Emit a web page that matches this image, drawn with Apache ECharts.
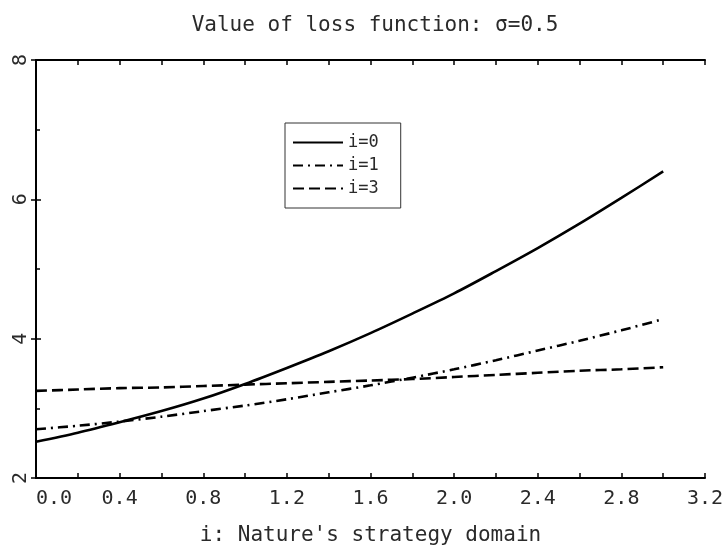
<!DOCTYPE html>
<html>
<head>
<meta charset="utf-8">
<script src="https://cdn.jsdelivr.net/npm/echarts@6/dist/echarts.min.js"></script>
<style>
html,body{margin:0;padding:0;background:#fff;}
#chart{width:724px;height:548px;}
</style>
</head>
<body>
<div id="chart"></div>
<script>
// ---- data ----
var titleText = 'Value of loss function: \u03c3=0.5';
var xAxisName = "i: Nature's strategy domain";
var seriesNames = ['i=0', 'i=1', 'i=3'];
var xValues = [0.0, 0.2, 0.4, 0.6, 0.8, 1.0, 1.2, 1.4, 1.6, 1.8, 2.0, 2.2, 2.4, 2.6, 2.8, 3.0];
var loss_i0 = [2.52, 2.65, 2.80, 2.96, 3.14, 3.35, 3.58, 3.82, 4.08, 4.36, 4.65, 4.97, 5.30, 5.65, 6.02, 6.40];
var loss_i1 = [2.70, 2.75, 2.81, 2.88, 2.96, 3.04, 3.13, 3.23, 3.33, 3.44, 3.56, 3.69, 3.83, 3.97, 4.12, 4.28];
var loss_i3 = [3.25, 3.27, 3.29, 3.30, 3.32, 3.34, 3.36, 3.38, 3.40, 3.42, 3.45, 3.48, 3.51, 3.54, 3.56, 3.59];
var xMin = 0, xMax = 3.2, xStep = 0.4;
var yMin = 2, yMax = 8, yStep = 2;

function pairs(xs, ys) { return xs.map(function (x, i) { return [x, ys[i]]; }); }

var FONT = 'DejaVu Sans Mono';
var TXT = '#2a2a2a';
var AX = { lineStyle: { color: '#000', width: 2 } };

var chart = echarts.init(document.getElementById('chart'), null, { renderer: 'canvas' });
var lineStyles = [
  { color: '#000', width: 2.6, type: 'solid' },
  { color: '#000', width: 2.6, type: [10, 5, 2, 5] },
  { color: '#000', width: 2.6, type: [11, 5] }
];
var dataSets = [loss_i0, loss_i1, loss_i3];

chart.setOption({
  animation: false,
  backgroundColor: '#fff',
  title: {
    text: titleText,
    left: 370, top: 10, textAlign: 'center',
    textStyle: { fontFamily: FONT, fontSize: 21, fontWeight: 'normal', color: TXT }
  },
  grid: { left: 36, right: 19, top: 60, bottom: 70, containLabel: false, outerBoundsMode: 'none' },
  legend: {
    data: seriesNames,
    orient: 'vertical',
    left: 285, top: 123,
    padding: [11, 22, 11, 7],
    itemWidth: 50, itemHeight: 16, itemGap: 6,
    borderColor: '#333', borderWidth: 1,
    itemStyle: { color: 'rgba(0,0,0,0)', borderWidth: 0, opacity: 0 },
    textStyle: { fontFamily: FONT, fontSize: 17, color: TXT }
  },
  xAxis: [{
    type: 'value', min: xMin, max: xMax, interval: xStep,
    position: 'bottom',
    axisLine: AX,
    axisTick: { inside: true, length: 5, lineStyle: { color: '#000', width: 1.5 } },
    minorTick: { show: true, splitNumber: 2, length: 5, lineStyle: { color: '#000', width: 1.5 } },
    splitLine: { show: false },
    axisLabel: {
      fontFamily: FONT, fontSize: 20, color: TXT, margin: 11,
      alignMinLabel: 'left',
      formatter: function (v) { return v.toFixed(1); }
    },
    name: xAxisName, nameLocation: 'middle', nameGap: 47,
    nameTextStyle: { fontFamily: FONT, fontSize: 21, color: TXT }
  }, {
    type: 'value', min: xMin, max: xMax, interval: 0.2,
    position: 'top',
    axisLine: AX,
    axisTick: { inside: true, length: 5, lineStyle: { color: '#000', width: 1.5 } },
    splitLine: { show: false },
    axisLabel: { show: false }
  }],
  yAxis: [{
    type: 'value', min: yMin, max: yMax, interval: yStep,
    position: 'left',
    axisLine: AX,
    axisTick: { inside: true, length: 5, lineStyle: { color: '#000', width: 1.5 } },
    minorTick: { show: true, splitNumber: 2, length: 4, lineStyle: { color: '#000', width: 1.5 } },
    splitLine: { show: false },
    axisLabel: { fontFamily: FONT, fontSize: 20, color: TXT, rotate: 90, margin: 5 }
  }, {
    type: 'value', min: yMin, max: yMax, interval: yStep,
    position: 'right',
    axisLine: AX,
    axisTick: { inside: true, length: 5, lineStyle: { color: '#000', width: 1.5 } },
    splitLine: { show: false },
    axisLabel: { show: false }
  }],
  series: seriesNames.map(function (name, k) {
    return {
      name: name, type: 'line',
      xAxisIndex: 0, yAxisIndex: 0,
      data: pairs(xValues, dataSets[k]),
      symbol: 'none', smooth: 0.3,
      lineStyle: lineStyles[k],
      itemStyle: { color: '#000' }
    };
  })
});
</script>
</body>
</html>
